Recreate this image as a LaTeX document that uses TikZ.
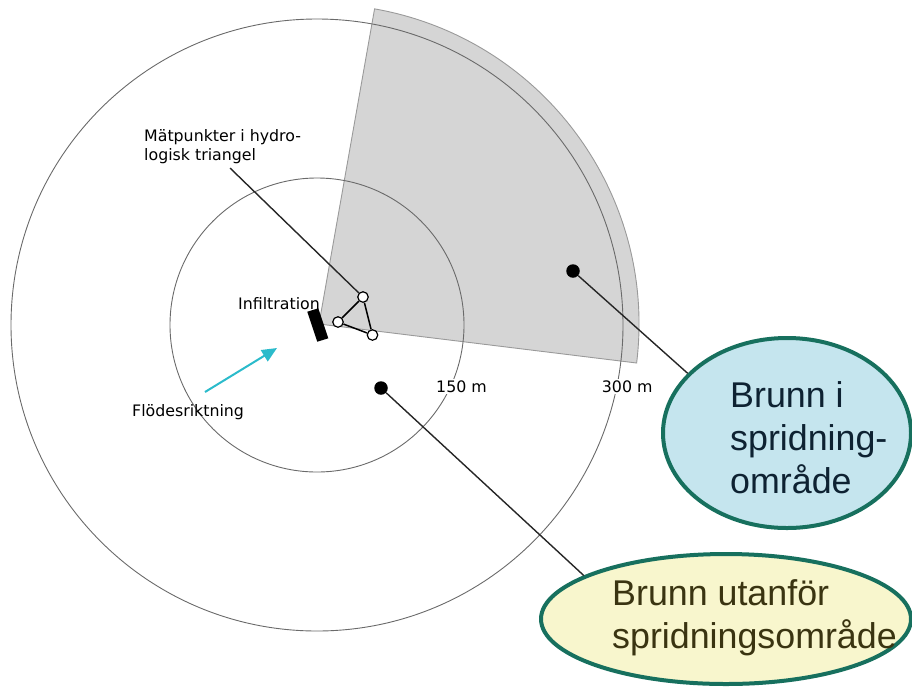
\documentclass[tikz,border=0pt]{standalone}
\usepackage{fontspec}
\setmainfont{DejaVu Sans}
\newfontfamily\calloutfont{Liberation Sans}
\usetikzlibrary{shapes.geometric,arrows.meta}
\definecolor{sectorgray}{HTML}{D5D5D5}
\definecolor{sectoredge}{HTML}{9A9A9A}
\definecolor{ringgray}{HTML}{6A6A6A}
\definecolor{flowcyan}{HTML}{2BBBCB}
\definecolor{calloutedge}{HTML}{17705E}
\definecolor{bluefill}{HTML}{C5E5EE}
\definecolor{yellowfill}{HTML}{F8F6CD}
\definecolor{bluetext}{HTML}{0E2232}
\definecolor{yellowtext}{HTML}{3A3411}
\begin{document}
\begin{tikzpicture}[x=1pt,y=-1pt,
  ring/.style={draw=ringgray,line width=0.9pt},
  smalllabel/.style={font=\fontsize{15.8}{19}\selectfont,inner sep=0pt,anchor=base west,align=left},
  ringlabel/.style={smalllabel,fill=white,inner sep=1.5pt},
  probe/.style={circle,draw=black,fill=white,line width=1.2pt,minimum size=10.5pt,inner sep=0pt},
  well/.style={circle,fill=black,minimum size=13.5pt,inner sep=0pt},
  leader/.style={draw=black!85,line width=1.4pt},
  callout/.style={ellipse,draw=calloutedge,line width=4pt,inner sep=0pt},
  callouttext/.style={font=\calloutfont\fontsize{35.8}{43}\selectfont,align=left,anchor=base west,inner sep=0pt}]

\useasboundingbox (0,0) rectangle (912,686);

% spreading sector
\coordinate (apex) at (319,324);
\filldraw[fill=sectorgray,draw=sectoredge,line width=0.9pt]
  (apex) -- ++(7:320) arc[start angle=7,end angle=-80,radius=320] -- cycle;

% distance rings
\coordinate (centre) at (317,325);
\draw[ring] (centre) circle[radius=306];
\draw[ring] (centre) circle[radius=147];
\node[ringlabel] (r150) at (434.5,392.5) {150 m};
\node[ringlabel] (r300) at (600.2,392.5) {300 m};

% infiltration
\fill[black] (307.3,311.7) -- (318.3,308.3) -- (328.3,338.3) -- (317.3,341.7) -- cycle;
\node[smalllabel] (infl) at (238,309) {Infiltration};

% hydrological triangle
\node[probe] (p1) at (363,297) {};
\node[probe] (p2) at (338,322) {};
\node[probe] (p3) at (372.5,335) {};
\draw[line width=1.5pt] (p1) -- (p2) -- (p3) -- (p1);
% base anchor of a multi-line node sits on its last line
\node[smalllabel] (tri) at (144,160) {Mätpunkter i hydro-\\logisk triangel};
\coordinate (trileader) at (230,168);
\draw[leader] (trileader) -- (p1);

% flow direction
\coordinate (flowtail) at (205,392);
\coordinate (flowtip) at (277,348);
\draw[flowcyan,line width=2pt,-{Triangle[length=15pt,width=13pt]}] (flowtail) -- (flowtip);
\node[smalllabel] (flow) at (132,416) {Flödesriktning};

% wells
\node[well] (w1) at (573,271) {};
\node[well] (w2) at (381,388) {};

% callouts
\node[callout,fill=bluefill,minimum width=248pt,minimum height=190pt] (cin) at (787,433) {};
\node[callout,fill=yellowfill,minimum width=370pt,minimum height=130pt] (cout) at (726,619) {};
\draw[leader] (w1) -- (cin.149);
\draw[leader] (w2) -- (cout.163);
\node[callouttext,text=bluetext] (tin) at (730,493) {Brunn i\\spridning-\\område};
\node[callouttext,text=yellowtext] (tout) at (612,648) {Brunn utanför\\spridningsområde};
\end{tikzpicture}
\end{document}
